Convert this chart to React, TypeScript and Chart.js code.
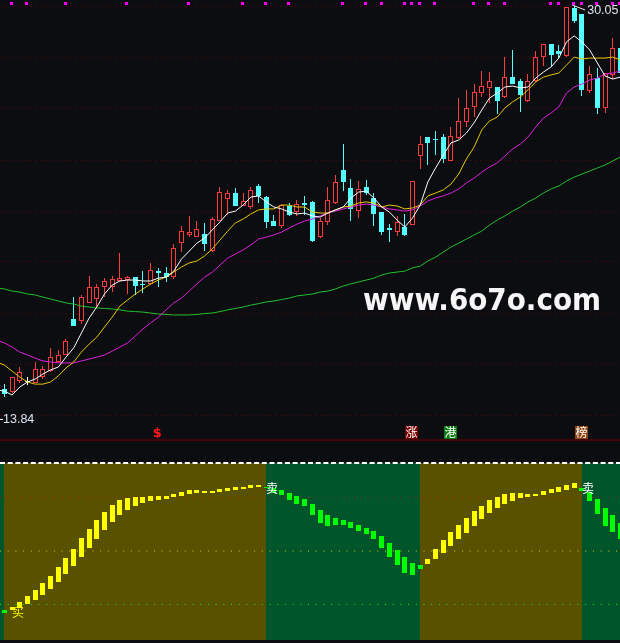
import React, { useEffect, useRef } from "react";
import { Chart, registerables } from "chart.js";

Chart.register(...registerables);

// ---- price panel data
const opens = [14.16,14.03,14.49,14.49,14.41,14.65,14.90,15.28,15.57,17.06,16.98,17.73,17.89,18.39,18.39,18.64,18.68,18.80,18.52,18.52,19.05,18.97,18.80,20.21,20.55,20.46,20.59,19.88,21.13,22.04,22.29,21.75,21.71,22.58,22.12,21.13,20.92,21.75,21.50,21.88,21.92,20.46,21.09,21.88,23.25,22.50,21.54,22.54,22.08,21.50,20.84,20.67,20.88,20.96,23.83,24.61,24.53,24.61,23.62,24.57,25.24,25.86,26.44,26.65,26.69,26.27,27.10,26.94,26.11,26.94,27.93,28.47,28.18,27.98,29.97,29.72,26.52,27.06,25.82,27.19,28.31];
const closes = [13.95,14.65,14.86,14.49,14.99,14.99,15.48,15.57,16.15,16.77,17.97,18.39,18.39,18.64,18.72,18.76,18.80,18.43,18.47,19.10,18.97,18.80,20.01,20.71,20.67,20.80,20.17,21.21,22.33,22.29,21.75,21.96,22.42,22.17,21.09,20.92,21.79,21.38,21.83,21.79,20.30,21.13,22.00,22.75,22.75,21.63,22.46,22.29,21.42,20.67,20.76,21.09,20.55,22.79,24.32,24.37,24.49,23.70,24.66,25.28,25.82,26.48,26.73,26.94,26.11,27.10,26.81,26.36,26.94,27.93,28.47,28.02,28.06,30.01,29.43,26.57,27.23,25.82,27.27,28.31,27.27];
const highs = [14.36,14.65,15.07,14.65,15.28,15.11,15.86,15.78,16.23,17.97,18.06,18.85,18.52,18.76,18.85,19.80,18.85,18.80,19.05,19.39,19.18,19.22,20.17,20.92,21.34,21.13,21.05,21.29,22.54,22.42,22.50,22.29,22.54,22.66,22.17,21.38,21.83,21.88,22.00,22.17,21.96,21.25,22.54,23.04,24.32,22.87,22.79,22.83,22.29,21.50,21.00,21.34,21.42,22.79,24.66,24.61,24.86,24.74,25.03,26.23,26.57,26.81,27.35,27.31,26.69,27.93,28.23,27.02,27.23,28.18,28.47,28.47,28.43,30.01,30.05,29.72,27.56,27.48,27.27,28.72,28.31];
const lows = [13.84,13.99,14.41,14.32,14.41,14.57,14.86,15.28,15.57,16.77,16.85,17.73,17.52,17.97,18.18,18.64,18.10,18.06,18.14,18.47,18.39,18.60,18.72,19.84,20.46,20.46,19.88,19.84,21.13,21.38,21.75,21.75,21.63,21.88,20.84,20.92,20.84,21.34,21.34,21.38,20.26,20.42,20.96,21.83,22.37,21.13,21.25,22.21,20.92,20.55,20.26,20.51,20.51,20.96,23.29,23.45,23.87,23.54,23.62,24.53,25.03,25.44,26.27,26.03,25.57,26.23,26.81,25.65,26.07,26.90,27.56,27.56,27.89,27.93,29.35,26.32,26.44,25.57,25.61,27.02,27.27];

// moving averages: the first value sits one session before the first candle
const maWhite = [14.12,14.07,13.91,14.24,14.45,14.57,14.78,14.95,15.07,15.48,15.86,16.48,17.10,17.56,18.10,18.47,18.64,18.68,18.68,18.64,18.64,18.76,18.80,19.05,19.55,19.88,20.21,20.42,20.76,21.09,21.46,21.54,21.79,22.12,22.17,21.92,21.71,21.63,21.50,21.42,21.46,21.34,21.29,21.46,21.59,21.71,22.08,22.33,22.37,22.08,21.71,21.50,21.17,20.88,21.25,21.79,22.75,23.33,23.87,24.37,24.49,24.78,25.20,25.74,26.23,26.44,26.69,26.73,26.65,26.69,27.06,27.31,27.52,27.89,28.56,28.81,28.56,28.23,27.69,27.15,27.02,27.10];
const maYellow = [15.28,15.15,14.90,14.65,14.45,14.36,14.36,14.45,14.70,15.03,15.28,15.69,16.02,16.31,16.73,17.14,17.60,17.85,18.10,18.31,18.52,18.68,18.80,19.01,19.22,19.39,19.47,19.68,19.97,20.34,20.71,21.05,21.21,21.42,21.59,21.63,21.63,21.79,21.79,21.71,21.71,21.50,21.46,21.46,21.59,21.71,21.75,21.88,21.92,21.88,21.71,21.79,21.75,21.63,21.67,21.79,22.17,22.29,22.42,22.66,23.08,23.70,24.20,24.91,25.28,25.44,25.82,26.07,26.27,26.57,26.90,27.10,27.19,27.27,27.60,27.93,27.85,27.89,27.89,27.89,27.93,27.81];
const maPurple = [16.19,16.07,15.90,15.69,15.57,15.44,15.32,15.28,15.24,15.24,15.24,15.32,15.40,15.48,15.57,15.73,15.90,16.07,16.36,16.65,16.90,17.14,17.44,17.73,17.93,18.22,18.52,18.80,19.01,19.30,19.59,19.76,19.93,20.13,20.38,20.46,20.55,20.67,20.84,21.00,21.13,21.21,21.34,21.46,21.54,21.63,21.71,21.79,21.83,21.79,21.71,21.63,21.59,21.54,21.59,21.75,21.96,22.08,22.17,22.29,22.46,22.71,22.91,23.16,23.37,23.54,23.83,24.12,24.32,24.61,25.03,25.40,25.61,25.86,26.44,26.69,26.81,26.98,27.06,27.23,27.27,27.35];
const maGreen = [18.35,18.31,18.22,18.18,18.10,18.06,17.97,17.89,17.81,17.73,17.68,17.60,17.56,17.52,17.50,17.48,17.44,17.39,17.37,17.35,17.31,17.27,17.25,17.23,17.23,17.23,17.25,17.29,17.31,17.37,17.44,17.50,17.56,17.64,17.70,17.77,17.81,17.87,17.93,18.02,18.06,18.10,18.18,18.22,18.31,18.43,18.52,18.60,18.68,18.76,18.89,18.97,19.01,19.05,19.18,19.26,19.47,19.63,19.84,20.05,20.21,20.38,20.55,20.71,20.96,21.17,21.34,21.54,21.71,21.92,22.08,22.29,22.46,22.58,22.79,22.95,23.08,23.20,23.33,23.45,23.62,23.78];

const gridPrices = [30.05,27.91,25.78,23.66,21.54,19.43,17.31,15.19,13.04];
const signalDots = [1,3,8,16,24,31,34,37,44,47,49,52,53,54,56,61,63,65,71,72,74,75,77,79,80];
const tagLabels = ["涨","港","榜"];
const tagSessions = [53,58,75];
const tagColors = ["#7a0000","#0a7a12","#8a4412"];

// ---- oscillator panel data
const oscHigh = [16.8,18.5,21.3,24.7,28.1,32.0,35.9,41.0,46.1,51.1,57.3,62.4,67.4,71.9,75.8,78.6,79.8,80.3,80.3,80.9,80.9,80.9,82.0,83.1,84.3,84.3,83.7,83.7,84.8,85.4,85.9,85.9,87.1,87.1,85.9,85.4,84.3,82.6,80.9,79.2,76.4,73.0,70.2,68.5,67.4,66.3,64.6,62.9,61.2,58.4,54.5,50.6,46.6,43.2,42.1,45.5,51.1,56.2,60.7,64.6,68.5,72.5,75.3,78.6,80.3,82.0,82.6,82.6,82.0,82.0,83.7,84.8,85.9,87.1,88.2,85.4,83.1,79.2,74.2,70.2,65.7];
const oscLow = [15.2,16.8,17.8,20.2,22.4,25.3,28.6,32.6,37.1,41.6,46.6,51.7,56.7,61.8,66.3,70.2,73.0,75.3,77.0,78.1,78.6,79.2,80.3,80.9,82.0,82.6,82.6,82.6,83.1,83.7,84.3,84.8,85.4,85.9,85.4,82.6,81.5,78.6,76.4,75.3,70.2,65.7,64.0,64.6,64.6,62.9,61.2,59.5,56.7,51.7,46.6,42.1,37.6,36.5,39.9,42.7,45.5,48.9,52.8,56.7,60.1,64.0,68.0,71.3,74.2,76.4,78.1,79.8,80.3,80.9,81.5,82.6,83.1,84.3,85.4,83.7,78.1,70.8,64.0,60.7,56.7];
const oscRising = [0,1,1,1,1,1,1,1,1,1,1,1,1,1,1,1,1,1,1,1,1,1,1,1,1,1,1,1,1,1,1,1,1,1,0,0,0,0,0,0,0,0,0,0,0,0,0,0,0,0,0,0,0,0,0,1,1,1,1,1,1,1,1,1,1,1,1,1,1,1,1,1,1,1,1,0,0,0,0,0,0];
// one entry per gap between sessions, starting with the gap before the first one
const bandLong = [0,1,1,1,1,1,1,1,1,1,1,1,1,1,1,1,1,1,1,1,1,1,1,1,1,1,1,1,1,1,1,1,1,1,1,0,0,0,0,0,0,0,0,0,0,0,0,0,0,0,0,0,0,0,0,1,1,1,1,1,1,1,1,1,1,1,1,1,1,1,1,1,1,1,1,1,0,0,0,0,0,0];
const levels = [80,50,20];
const levelColors = ["#d01414","#e0c814","#14f014"];
const tradeTexts = ["买","卖","卖"];
const tradeSessions = [1.77,34.75,75.8];
const tradeValues = [15.4,85.4,85];
const tradeColors = ["#ffff00","#ffffff","#ffffff"];

const X_MIN = -0.571;
const X_MAX = 79.948;
const BG = "#0c0d11";
const RED = "#ff3c3c";
const CYAN = "#54ffff";

const snapBars = {
  id: "snapBars",
  afterDatasetsUpdate(chart: any) {
    chart.data.datasets.forEach((ds: any, di: number) => {
      const meta = chart.getDatasetMeta(di);
      if (meta.type !== "bar") return;
      meta.data.forEach((el: any, i: number) => {
        if (ds.band) {
          const xs = chart.scales.x;
          const c = ds.data[i].x;
          const l = Math.round(xs.getPixelForValue(c - 0.5));
          const r = Math.round(xs.getPixelForValue(c + 0.5));
          el.x = (l + r) / 2;
          el.width = r - l;
        } else {
          el.x = Math.floor(el.x) + 0.5;
        }
        el.y = Math.round(el.y);
        el.base = Math.round(el.base);
        if (el.base === el.y) el.base = el.y + 1;
      });
    });
    chart.data.datasets.forEach((ds: any, di: number) => {
      if (!ds.snapPoints) return;
      chart.getDatasetMeta(di).data.forEach((el: any) => {
        el.x = Math.floor(el.x - 0.6) + 0.5;
        el.y = Math.floor(el.y) + 0.5;
      });
    });
  },
};

const priceText = {
  id: "priceText",
  afterDatasetsDraw(chart: any) {
    const { ctx, scales } = chart;
    const x = scales.x;
    const y = scales.y;
    ctx.save();
    // high / low marks
    ctx.strokeStyle = "#e8e8e8";
    ctx.lineWidth = 1;
    const hx = x.getPixelForValue(74);
    const hy = y.getPixelForValue(30.05);
    ctx.beginPath();
    ctx.moveTo(hx - 2, hy - 1);
    ctx.lineTo(hx + 11, hy + 4);
    ctx.stroke();
    ctx.font = "12.5px 'Liberation Sans'";
    ctx.fillStyle = "#dbe4f0";
    ctx.textBaseline = "middle";
    ctx.textAlign = "left";
    ctx.fillText("30.05", hx + 13, 11);
    ctx.beginPath();
    ctx.moveTo(0, 419.5);
    ctx.lineTo(3, 419.5);
    ctx.stroke();
    ctx.fillText("13.84", 3, 420);
    // tags along the bottom of the panel
    tagLabels.forEach((t, i) => {
      const cx = Math.round(x.getPixelForValue(tagSessions[i]));
      ctx.fillStyle = tagColors[i];
      ctx.fillRect(cx - 7, 426, 13, 13);
      ctx.fillStyle = "#ffffff";
      ctx.font = "12px 'Noto Sans CJK SC'";
      ctx.textAlign = "center";
      ctx.fillText(t, cx - 0.5, 432.5);
    });
    ctx.fillStyle = "#ff1a1a";
    ctx.font = "bold 13px 'DejaVu Sans'";
    ctx.textAlign = "center";
    ctx.fillText("$", x.getPixelForValue(20) - 1, 434);
    // watermark
    ctx.font = "bold 30px 'DejaVu Sans'";
    ctx.textAlign = "left";
    ctx.textBaseline = "alphabetic";
    ctx.fillStyle = "#f6f6f6";
    ctx.fillText("www.6o7o.com", x.getPixelForValue(46.57), y.getPixelForValue(17.44), 238);
    ctx.restore();
  },
};

const oscText = {
  id: "oscText",
  afterDatasetsDraw(chart: any) {
    const { ctx, scales } = chart;
    ctx.save();
    ctx.font = "12px 'Noto Sans CJK SC'";
    ctx.textAlign = "center";
    ctx.textBaseline = "middle";
    tradeTexts.forEach((t, i) => {
      ctx.fillStyle = tradeColors[i];
      ctx.fillText(t, scales.x.getPixelForValue(tradeSessions[i]), scales.y.getPixelForValue(tradeValues[i]));
    });
    ctx.restore();
  },
};

const line = (values: number[], color: string, order: number) => ({
  type: "line",
  data: values.map((v, i) => ({ x: i - 1, y: v })),
  borderColor: color,
  borderWidth: 1,
  pointRadius: 0,
  tension: 0,
  order,
});

export default function App() {
  const topRef = useRef<HTMLCanvasElement>(null);
  const botRef = useRef<HTMLCanvasElement>(null);

  useEffect(() => {
    const up = closes.map((c, i) => c > opens[i]);
    const flat = closes.map((c, i) => c === opens[i]);
    const candleColor = up.map((u, i) => (flat[i] ? "#ffffff" : u ? RED : CYAN));
    const hiddenX = { type: "linear", min: X_MIN, max: X_MAX, display: false, offset: false, grid: { display: false } };

    const top = new Chart(topRef.current as any, {
      type: "bar",
      plugins: [snapBars, priceText],
      data: {
        datasets: [
          {
            type: "scatter",
            data: signalDots.map((s) => ({ x: s, y: 30.15 })),
            pointStyle: "rect",
            pointRadius: 2.12,
            backgroundColor: "#ff00ff",
            borderWidth: 0,
            order: 0,
            snapPoints: true,
            clip: false,
          },
          line(maWhite, "#ffffff", 1),
          line(maYellow, "#e8c800", 2),
          line(maPurple, "#e020e0", 3),
          line(maGreen, "#20c02c", 4),
          {
            type: "line",
            data: [{ x: X_MIN, y: 12.04 }, { x: X_MAX, y: 12.04 }],
            borderColor: "#7a0000",
            borderWidth: 1,
            pointRadius: 0,
            order: 4.5,
          },
          {
            data: opens.map((o, i) => ({ x: i, y: [o, closes[i]] })),
            grouped: false,
            barThickness: 5,
            inflateAmount: 0,
            borderWidth: 1,
            borderSkipped: false,
            borderColor: candleColor,
            backgroundColor: candleColor.map((c) => (c === RED ? BG : c)),
            order: 5,
          },
          {
            data: highs.map((h, i) => ({ x: i, y: [lows[i], h] })),
            grouped: false,
            barThickness: 1,
            inflateAmount: 0,
            borderWidth: 0,
            backgroundColor: candleColor,
            order: 6,
          },
        ],
      } as any,
      options: {
        responsive: false,
        animation: false,
        layout: { padding: 0, autoPadding: false },
        plugins: { legend: { display: false }, tooltip: { enabled: false } },
        scales: {
          x: hiddenX,
          y: {
            min: 12,
            max: 30.3,
            ticks: { display: false },
            grid: { color: "#3f0808", lineWidth: 1, drawTicks: false },
            border: { display: false, dash: [2, 3] },
            afterBuildTicks: (s: any) => {
              s.ticks = gridPrices.map((v) => ({ value: v }));
            },
          },
        },
      } as any,
    });

    const bot = new Chart(botRef.current as any, {
      type: "bar",
      plugins: [snapBars, oscText],
      data: {
        datasets: [
          {
            data: oscHigh.map((h, i) => ({ x: i, y: [oscLow[i], h] })),
            grouped: false,
            barThickness: 5,
            inflateAmount: 0,
            borderWidth: 0,
            backgroundColor: oscRising.map((r) => (r ? "#ffff00" : "#00ff00")),
            order: 1,
          },
          {
            type: "line",
            data: [{ x: X_MIN, y: 99.5 }, { x: X_MAX, y: 99.5 }],
            borderColor: "#ffffff",
            borderWidth: 2,
            borderDash: [5, 2.7],
            pointRadius: 0,
            clip: false,
            order: 2,
          },
          ...levels.map((lv, i) => ({
            type: "line",
            data: [{ x: X_MIN, y: lv }, { x: X_MAX, y: lv }],
            borderColor: levelColors[i],
            borderWidth: 1,
            borderDash: [1, 6.7],
            pointRadius: 0,
            order: 3,
          })),
          {
            band: true,
            data: bandLong.map((_, j) => ({ x: j - 0.5, y: [0, 99.5] })),
            grouped: false,
            barThickness: 8,
            inflateAmount: 0,
            borderWidth: 0,
            backgroundColor: bandLong.map((b) => (b ? "#575100" : "#00552a")),
            order: 4,
          },
        ],
      } as any,
      options: {
        responsive: false,
        animation: false,
        layout: { padding: { top: 21, bottom: 3, left: 0, right: 0 }, autoPadding: false },
        plugins: { legend: { display: false }, tooltip: { enabled: false } },
        scales: {
          x: hiddenX,
          y: { min: 0, max: 100, display: false },
        },
      } as any,
    });

    return () => {
      top.destroy();
      bot.destroy();
    };
  }, []);

  return (
    <div style={{ position: "fixed", left: 0, top: 0, width: 620, height: 643, background: BG, overflow: "hidden" }}>
      <canvas ref={topRef} width={620} height={441} style={{ position: "absolute", left: 0, top: 0, display: "block" }} />
      <canvas ref={botRef} width={620} height={202} style={{ position: "absolute", left: 0, top: 441, display: "block" }} />
    </div>
  );
}
